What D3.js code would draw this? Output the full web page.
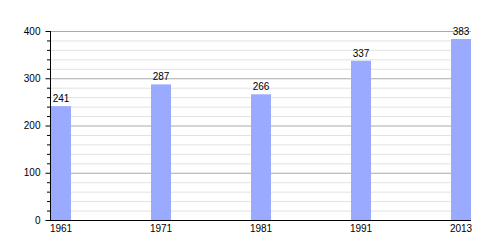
<!DOCTYPE html>
<html>
<head>
<meta charset="UTF-8">
<style>
  body { margin: 0; background: #fff; }
  text { font-family: "Liberation Sans", Arial, sans-serif; font-size: 10px; fill: #000; }
</style>
</head>
<body>
<div id="chart"></div>
<script src="https://d3js.org/d3.v7.min.js"></script>
<script>
// data
const years = ["1961", "1971", "1981", "1991", "2013"];
const population = [241, 287, 266, 337, 383];
const majorTicks = [0, 100, 200, 300, 400];

const width = 500, height = 250;
const plotLeft = 50, plotRight = 471, plotTop = 31, plotBottom = 220;
const barWidth = 20;

const svg = d3.select("#chart").append("svg")
  .attr("width", width)
  .attr("height", height);

const x = d3.scalePoint().domain(years).range([plotLeft + 1, plotLeft + 401]);
const y = d3.scaleLinear().domain([0, 400]).range([plotBottom, plotTop]);

// minor grid
const minor = d3.range(0, 401, 20).filter(v => v % 100 !== 0);
svg.append("g").selectAll("line")
  .data(minor)
  .enter().append("line")
  .attr("x1", plotLeft).attr("x2", plotRight)
  .attr("y1", d => y(d) + 0.5).attr("y2", d => y(d) + 0.5)
  .attr("stroke", "#e2e2e2");

// major grid
svg.append("g").selectAll("line")
  .data(majorTicks.slice(1))
  .enter().append("line")
  .attr("x1", plotLeft).attr("x2", plotRight)
  .attr("y1", d => y(d) + 0.5).attr("y2", d => y(d) + 0.5)
  .attr("stroke", "#aaa");

// bars
svg.append("g").selectAll("rect")
  .data(population)
  .enter().append("rect")
  .attr("x", (d, i) => x(years[i]))
  .attr("y", d => y(d))
  .attr("width", barWidth)
  .attr("height", d => y(0) - y(d))
  .attr("fill", "#99aaff");

// value labels
svg.append("g").selectAll("text")
  .data(population)
  .enter().append("text")
  .attr("x", (d, i) => x(years[i]) + barWidth / 2)
  .attr("y", d => y(d) - 4)
  .attr("text-anchor", "middle")
  .text(d => d);

// y axis
const yAxis = d3.axisLeft(y)
  .tickValues(majorTicks)
  .tickSize(5)
  .tickPadding(5);
const ya = svg.append("g")
  .attr("transform", `translate(${plotLeft + 0.5},0)`)
  .call(yAxis);
ya.select(".domain").attr("stroke", "#000").attr("d", `M0,${plotTop}V${plotBottom}`);
ya.selectAll(".tick line").attr("stroke", "#000");
ya.selectAll(".tick text").attr("font-size", 10).attr("font-family", null).attr("fill", "#000");

// minor ticks on y axis
svg.append("g").selectAll("line")
  .data(minor)
  .enter().append("line")
  .attr("x1", plotLeft - 3).attr("x2", plotLeft)
  .attr("y1", d => y(d) + 0.5).attr("y2", d => y(d) + 0.5)
  .attr("stroke", "#000");

// x axis line
svg.append("line")
  .attr("x1", plotLeft).attr("x2", plotRight)
  .attr("y1", plotBottom + 0.5).attr("y2", plotBottom + 0.5)
  .attr("stroke", "#000");

// year labels
svg.append("g").selectAll("text")
  .data(years)
  .enter().append("text")
  .attr("x", d => x(d) + barWidth / 2)
  .attr("y", plotBottom + 12)
  .attr("text-anchor", "middle")
  .text(d => d);
</script>
</body>
</html>
